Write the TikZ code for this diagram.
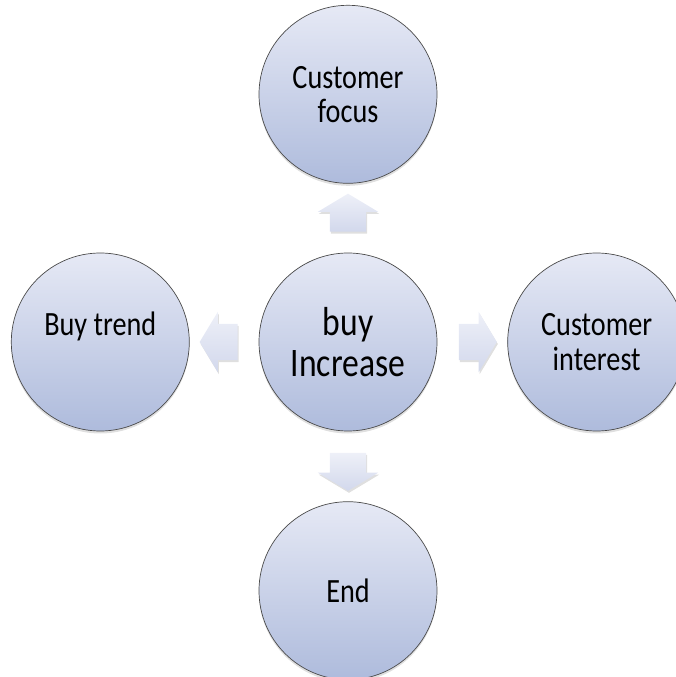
\documentclass[tikz,border=0pt]{standalone}
\usepackage{fontspec}
\newfontfamily\smartfont{Carlito}[FakeStretch=0.83]
\usetikzlibrary{positioning,shapes.arrows,shadows,calc}

\definecolor{ballTop}{HTML}{E6E9F5}
\definecolor{ballBottom}{HTML}{AEBBDC}
\definecolor{ringLine}{HTML}{4A4A4A}
\definecolor{arrowTop}{HTML}{EEF0F8}
\definecolor{arrowBottom}{HTML}{D2D8EC}

\begin{document}
\begin{tikzpicture}[x=1pt,y=1pt,node distance=69pt,
  ball/.style={circle,minimum size=178pt,inner sep=0pt,draw=ringLine,line width=0.7pt,
    top color=ballTop,bottom color=ballBottom,align=center,
    drop shadow={shadow xshift=0pt,shadow yshift=-2.5pt,opacity=0.25},
    font=\smartfont\fontsize{34}{34}\selectfont},
  fat arrow/.style={single arrow,draw=none,inner xsep=0pt,inner ysep=18pt,minimum height=38pt,
    minimum width=60pt,single arrow head extend=12pt,single arrow tip angle=118,
    top color=arrowTop,bottom color=arrowBottom,
    drop shadow={shadow xshift=1pt,shadow yshift=-2pt,opacity=0.25}},
  fat arrow v/.style={fat arrow,inner xsep=18pt,inner ysep=0pt}]

  \useasboundingbox (-348,-335) rectangle (328,342);

  \node[ball,font=\smartfont\fontsize{40.5}{40.5}\selectfont] (incr) {buy\\Increase};
  \node[ball] (focus) [above=of incr] {Customer\\focus};
  \node[ball,text height=24pt,text depth=36pt] (trend) [left=of incr] {Buy trend};
  \node[ball,font=\smartfont\fontsize{34}{35}\selectfont] (interest) [right=70pt of incr] {Customer\\interest};
  \node[ball] (theend) [below=70pt of incr] {End};

  % block arrows between the balls
  \node[fat arrow v,shape border rotate=90] (toFocus) at ($(incr)!0.5!(focus)$) {};
  \node[fat arrow,shape border rotate=180] (toTrend) at ($(incr)!0.5!(trend)$) {};
  \node[fat arrow] (toInterest) at ($(incr)!0.5!(interest)$) {};
  \node[fat arrow v,shape border rotate=270] (toEnd) at ($(incr)!0.5!(theend)$) {};
\end{tikzpicture}
\end{document}
